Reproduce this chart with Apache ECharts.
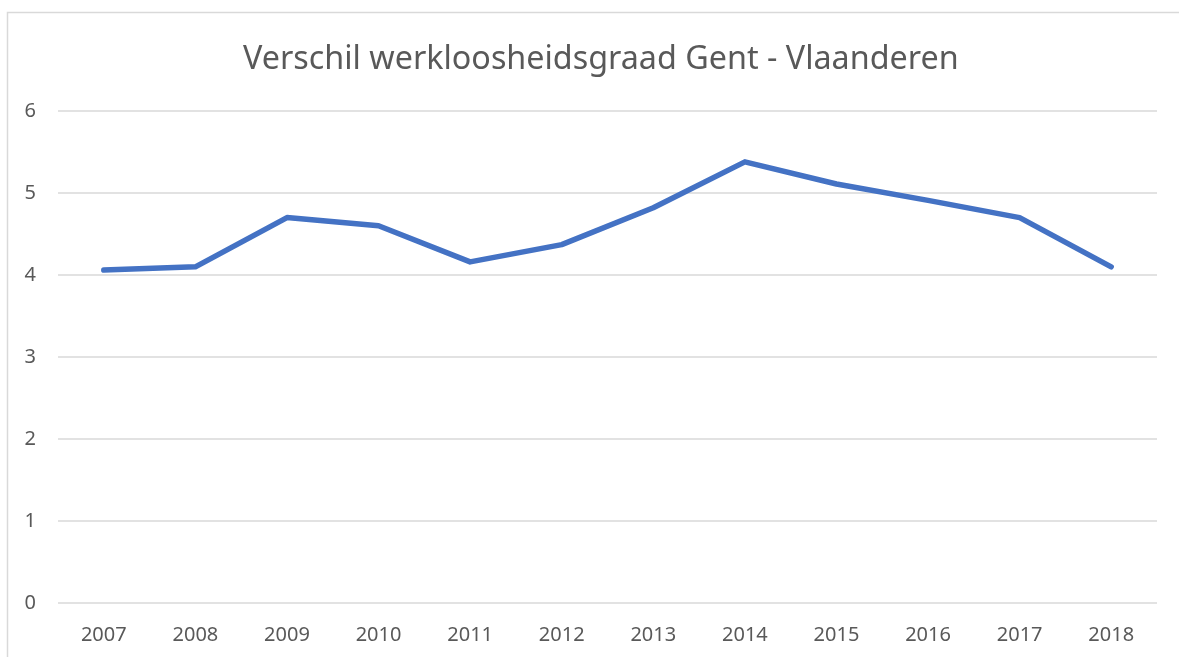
<!DOCTYPE html>
<html><head><meta charset="utf-8">
<script src="https://cdn.jsdelivr.net/npm/echarts@6/dist/echarts.min.js"></script>
<style>html,body{margin:0;padding:0;background:#fff}#c{width:1179px;height:657px}</style>
</head><body><div id="c"></div>
<script>
const categories = ['2007','2008','2009','2010','2011','2012','2013','2014','2015','2016','2017','2018'];
const values = [4.06, 4.10, 4.70, 4.60, 4.16, 4.37, 4.82, 5.38, 5.11, 4.91, 4.70, 4.10];
const titleText = 'Verschil werkloosheidsgraad Gent - Vlaanderen';

const chart = echarts.init(document.getElementById('c'), null, {renderer: 'canvas'});
chart.setOption({
  backgroundColor: '#fff',
  animation: false,
  graphic: [{
    type: 'rect', shape: {x: 7.5, y: 12.5, width: 1300, height: 800},
    style: {fill: 'none', stroke: '#d9d9d9', lineWidth: 1.5}, silent: true, z: -1
  }],
  title: {
    text: titleText, left: 238, top: 39,
    textStyle: {fontFamily: 'Noto Sans', fontSize: 32.3, fontWeight: 'normal', color: '#595959'}
  },
  grid: {left: 58, right: 22, top: 111, bottom: 54, containLabel: false},
  xAxis: {
    type: 'category', data: categories, boundaryGap: true,
    axisLine: {show: false}, axisTick: {show: false},
    axisLabel: {fontFamily: 'Noto Sans', fontSize: 20, color: '#595959', margin: 22}
  },
  yAxis: {
    type: 'value', min: 0, max: 6, interval: 1,
    axisLine: {show: false}, axisTick: {show: false},
    axisLabel: {fontFamily: 'Noto Sans', fontSize: 20, color: '#595959', margin: 22},
    splitLine: {lineStyle: {color: '#d9d9d9', width: 1.5}}
  },
  series: [{
    type: 'line', data: values, symbol: 'none',
    lineStyle: {color: '#4472C4', width: 5.5, cap: 'round', join: 'round'}
  }]
});
</script></body></html>
